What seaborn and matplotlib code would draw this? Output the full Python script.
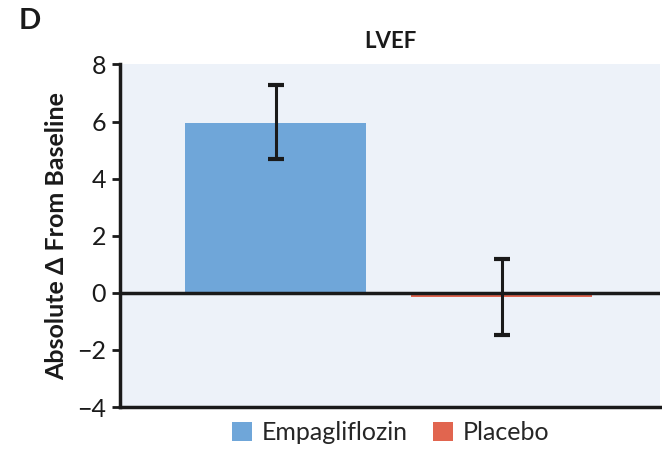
import numpy as np
import pandas as pd
import matplotlib
matplotlib.use("Agg")
import matplotlib.pyplot as plt
import seaborn as sns
from matplotlib.patches import Patch

# ── data ─────────────────────────────────────────────────────────────────────
groups = ["Empagliflozin", "Placebo"]
change = [5.95, -0.15]
ci_low = [4.68, -1.48]
ci_high = [7.28, 1.19]
colors = ["#6fa6d9", "#e1654f"]

df = pd.DataFrame({"group": groups, "change": change})

sns.set_style("white")
plt.rcParams["font.family"] = ["Lato", "DejaVu Sans"]

fig = plt.figure(figsize=(6.62, 4.49), dpi=100)
ax = fig.add_axes([0.181, 0.0935, 0.816, 0.763])
ax.set_facecolor("#edf2f9")

sns.barplot(data=df, x="group", y="change", hue="group", palette=colors,
            errorbar=None, width=0.8, saturation=1, linewidth=0,
            legend=False, ax=ax, zorder=2)

x = np.arange(len(groups))
lo = np.array(change) - np.array(ci_low)
hi = np.array(ci_high) - np.array(change)
ax.errorbar(x, change, yerr=[lo, hi], fmt="none", ecolor="#1a1a1a",
            elinewidth=2.2, capsize=6, capthick=3, zorder=4)

ax.axhline(0, color="#1a1a1a", lw=2.5, zorder=3)

ax.set_xlim(-0.69, 1.70)
ax.set_ylim(-4, 8)
ax.set_yticks(range(-4, 9, 2))
ax.set_yticklabels([str(v).replace("-", "\u2212") for v in range(-4, 9, 2)])
ax.set_xticks([])
ax.set_xlabel("")
ax.set_ylabel("Absolute \u0394 From Baseline", fontsize=18, fontweight="bold",
              color="#1a1a1a", labelpad=6)
ax.tick_params(axis="y", left=True, length=6, width=2, colors="#1a1a1a",
               labelsize=18, pad=4)

for side in ["top", "right"]:
    ax.spines[side].set_visible(False)
for side in ["left", "bottom"]:
    ax.spines[side].set_color("#1a1a1a")
    ax.spines[side].set_linewidth(2.5)

ax.set_title("LVEF", fontsize=16, fontweight="bold", color="#1a1a1a", pad=12)
fig.text(0.028, 0.935, "D", fontsize=21, fontweight="bold", color="#1a1a1a")

handles = [Patch(facecolor=c, edgecolor="none", label=g) for g, c in zip(groups, colors)]
fig.legend(handles=handles, loc="lower center", bbox_to_anchor=(0.59, -0.04),
           ncol=2, frameon=False, fontsize=18, handlelength=0.8, handleheight=0.8,
           handletextpad=0.4, columnspacing=1.0)

fig.savefig("out.png", dpi=100)
